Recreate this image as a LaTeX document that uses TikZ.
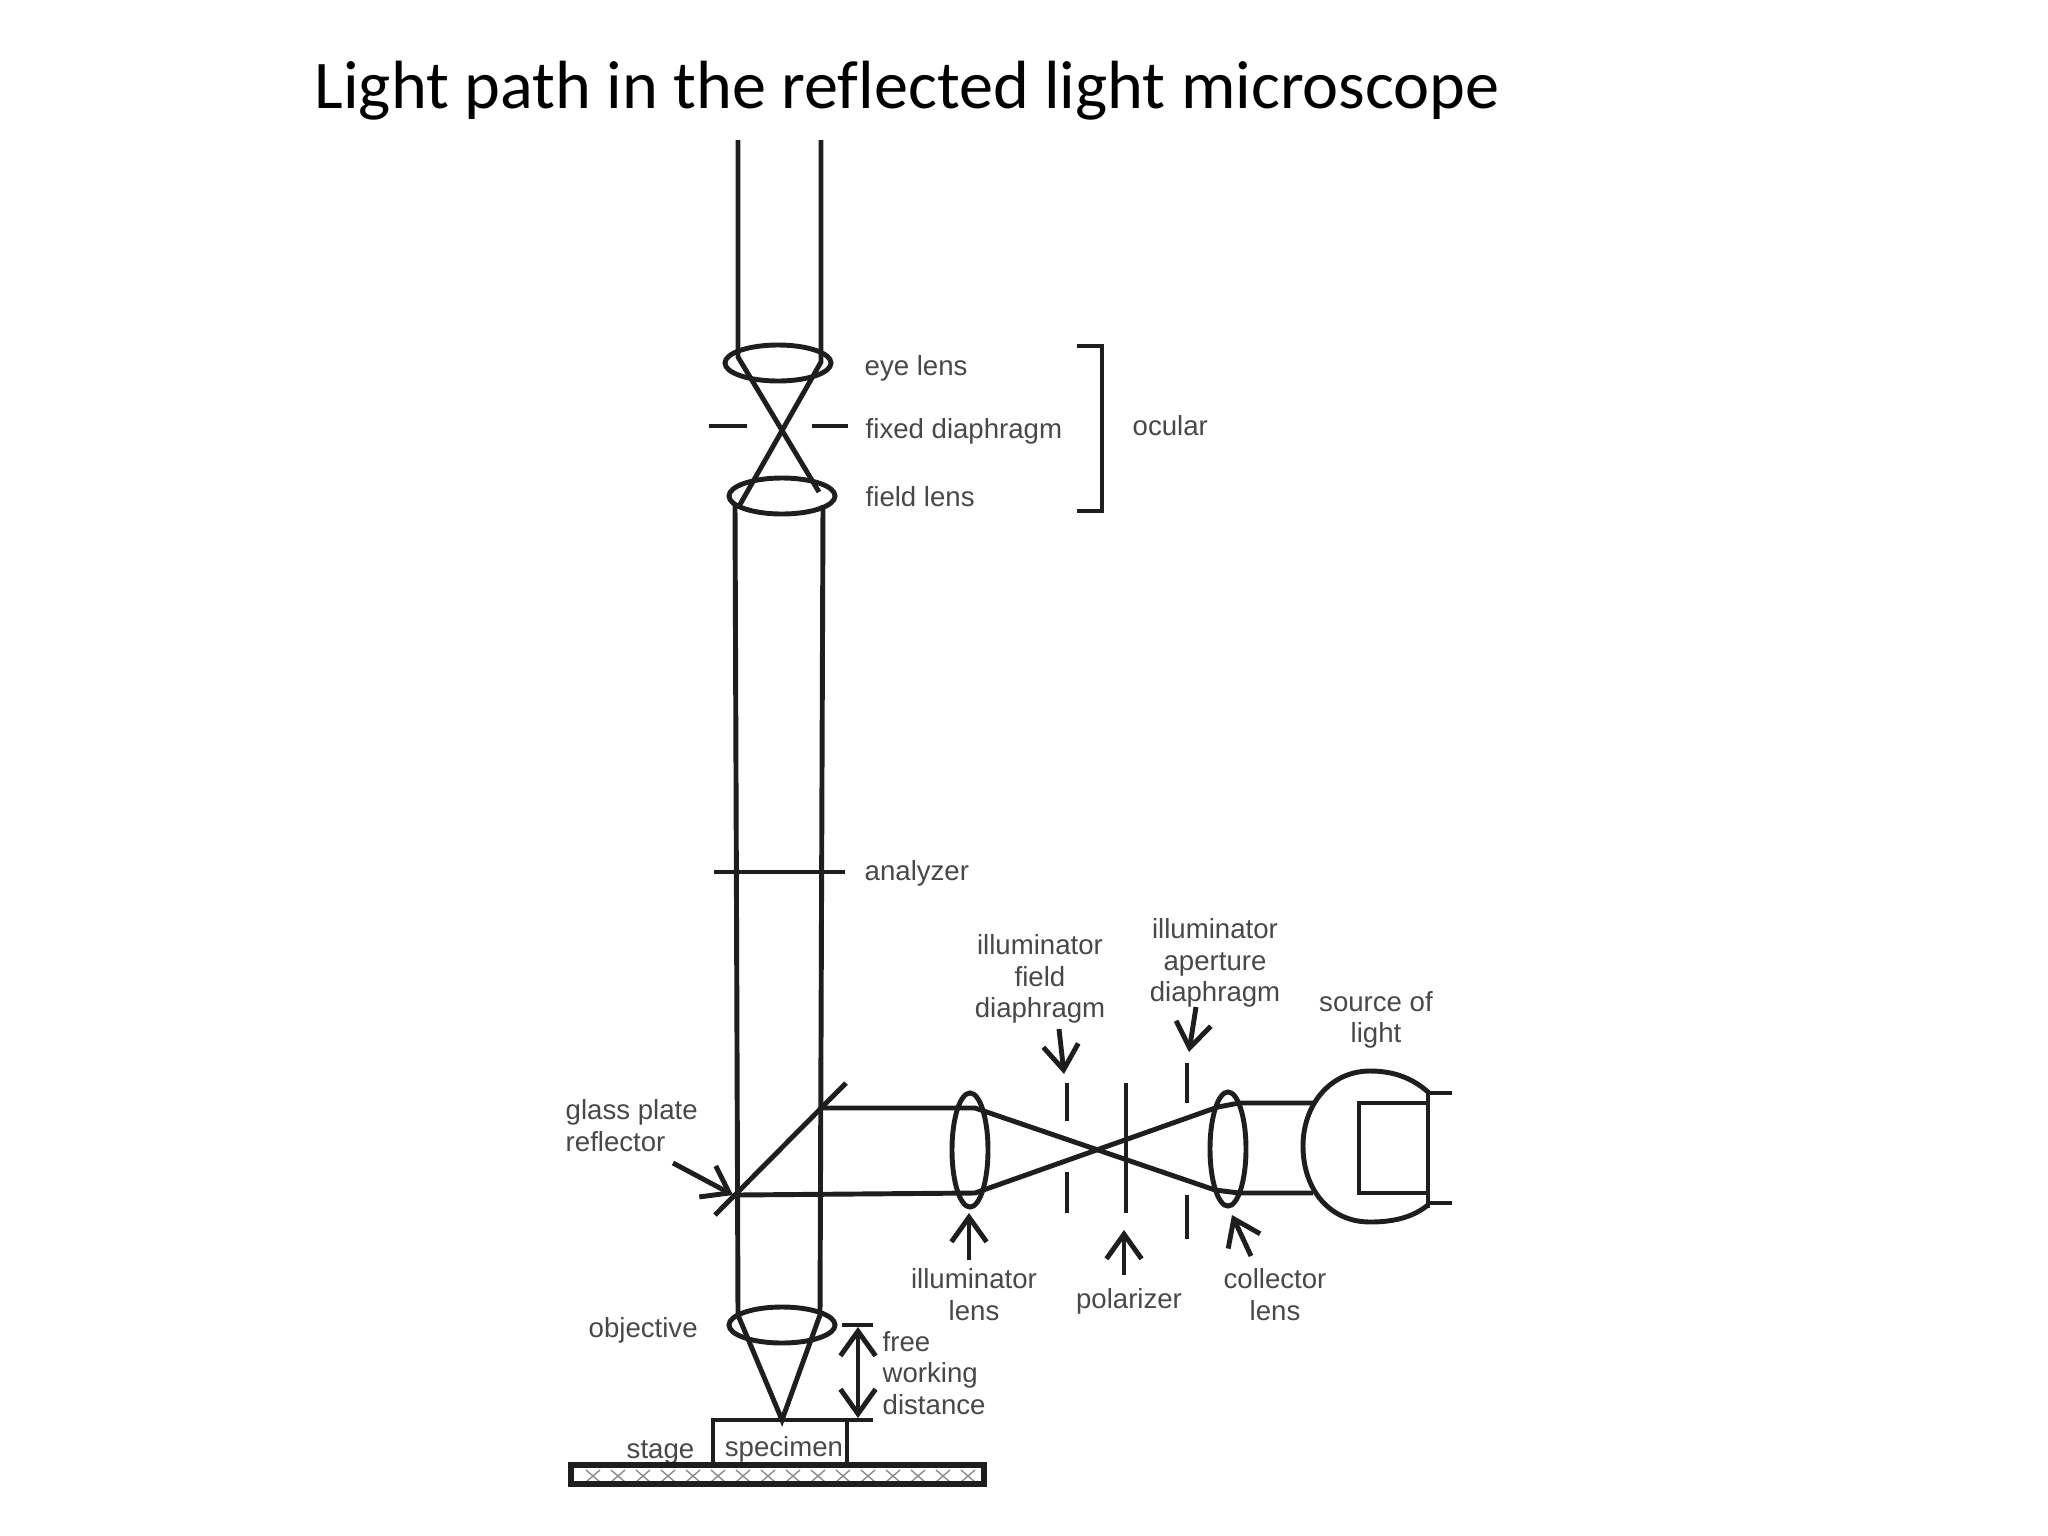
\documentclass[tikz,border=0pt]{standalone}
\usepackage{xcolor}
\usepackage{fontspec}
\setmainfont{Liberation Sans}
\newfontfamily\titlefont[Ligatures=NoCommon]{Carlito}
\usetikzlibrary{shapes.geometric, arrows.meta, positioning, calc}
\definecolor{ink}{HTML}{1E1E1E}
\definecolor{labelgray}{HTML}{484848}
\definecolor{hatch}{HTML}{8C8C8C}
\tikzset{
  barb/.tip       = {Straight Barb[length=7pt, width=10pt, line width=1.4pt]},
  ray/.style      = {draw=ink, line width=1.4pt},
  stop/.style     = {ray, line cap=butt},
  lensh/.style    = {ellipse, draw=ink, line width=1.4pt, inner sep=0pt, minimum width=1.06cm, minimum height=0.36cm},
  lensv/.style    = {ellipse, draw=ink, line width=1.4pt, inner sep=0pt, minimum width=0.36cm, minimum height=1.14cm},
  pointer/.style  = {-barb, draw=ink, line width=1.4pt},
  partname/.style = {font=\fontsize{7.85}{8.9}\selectfont, text=labelgray, inner sep=0pt, align=center},
  headline/.style = {font=\titlefont\fontsize{19.4}{24}\selectfont, text=black, inner sep=0pt},
}
\begin{document}
\begin{tikzpicture}[x=0.01cm, y=-0.01cm]
  \useasboundingbox (0,0) rectangle (2048,1536);
  \node[headline, anchor=base west] (title) at (314,108) {Light path in the reflected light microscope};

  % ocular
  \node[lensh] (eyelens) at (778,363) {};
  \node[lensh] (fieldlens) at (782,496) {};
  \draw[ray] (738,140) -- (738,357) -- (819,492);
  \draw[ray] (821,140) -- (821,362) -- (738,508);
  \draw[stop] (709,426) -- (747,426);
  \draw[stop] (812,426) -- (848,426);
  \draw[stop] (1077,346) -- (1102,346) -- (1102,511) -- (1077,511);
  \node[partname, anchor=base west] (eyename) at (864,375) {eye lens};
  \node[partname, anchor=base west] (fixedname) at (865,438) {fixed diaphragm};
  \node[partname, anchor=base west] (fieldname) at (865,506) {field lens};
  \node[partname, anchor=base west] (ocularname) at (1132,435) {ocular};

  % long tube
  \draw[ray] (735,505) -- (738,1315) -- (782,1420) -- (820,1315) -- (823,505);
  \draw[stop] (714,872) -- (845,872);
  \node[partname, anchor=base west] (analyzername) at (864,880) {analyzer};
  \node[lensh] (objective) at (782,1325) {};
  \node[partname, anchor=base west] (objectivename) at (588,1337) {objective};

  % reflector
  \coordinate (plateend) at (846,1083);
  \draw[stop] (715,1215) -- (plateend);
  \node[partname, anchor=north west, align=left] (platename) at (565,1099) {glass plate\\reflector};
  \draw[pointer] (673,1163) -- (733,1195);

  % illuminator
  \node[lensv] (illumlens) at (970,1150) {};
  \node[lensv] (collector) at (1228,1149) {};
  \draw[ray] (823,1108) -- (975,1108) -- (1215,1190);
  \draw[ray] (737,1195) -- (975,1193) -- (1218,1107);
  \draw[ray] (1218,1107) -- (1239,1103) -- (1313,1103);
  \draw[ray] (1215,1190) -- (1239,1193) -- (1313,1193);
  \draw[stop] (1067,1083) -- (1067,1121);
  \draw[stop] (1067,1172) -- (1067,1213);
  \draw[stop] (1126,1083) -- (1126,1213);
  \draw[stop] (1187,1063) -- (1187,1103);
  \draw[stop] (1187,1195) -- (1187,1239);

  % lamp
  \draw[ray] (1428,1092) .. controls (1410,1076) and (1390,1071) .. (1370,1071)
    .. controls (1330,1071) and (1303,1105) .. (1303,1146)
    .. controls (1303,1190) and (1330,1222) .. (1370,1222)
    .. controls (1392,1222) and (1412,1218) .. (1428,1205);
  \draw[ray] (1428,1090) -- (1428,1208);
  \draw[ray] (1428,1103) -- (1359,1103) -- (1359,1193) -- (1428,1193);
  \draw[ray] (1428,1093) -- (1452,1093);
  \draw[ray] (1428,1203) -- (1452,1203);
  \node[partname, anchor=north] (sourcename) at (1376,991) {source of\\light};

  % names with pointers
  \node[partname, anchor=north] (illumname) at (974,1268) {illuminator\\lens};
  \draw[pointer] (969,1260) -- (969,1213);
  \node[partname, anchor=north] (fieldstopname) at (1040,934) {illuminator\\field\\diaphragm};
  \draw[pointer] (1059,1029) -- (1064,1074);
  \node[partname, anchor=north] (aperturename) at (1215,918) {illuminator\\aperture\\diaphragm};
  \draw[pointer] (1196,1007) -- (1189,1052);
  \node[partname, anchor=base] (polarizername) at (1129,1308) {polarizer};
  \draw[pointer] (1124,1275) -- (1124,1230);
  \node[partname, anchor=north] (collectorname) at (1275,1268) {collector\\lens};
  \draw[pointer] (1251,1256) -- (1232,1215);

  % stage
  \draw[ray] (713,1463) -- (713,1420) -- (873,1420);
  \draw[ray] (847,1420) -- (847,1463);
  \draw[stop] (842,1325) -- (873,1325);
  \draw[barb-barb, ray] (858,1327) -- (858,1418);
  \node[partname, anchor=north west, align=left] (freename) at (882,1331) {free\\working\\distance};
  \node[partname, anchor=base west] (stagename) at (626,1458) {stage};
  \node[partname, anchor=base] (specimenname) at (784,1456) {specimen};
  \foreach \i in {0,...,15}
    \draw[hatch, line width=0.4pt] ({593+25*\i-7},1470) -- ({593+25*\i+7},1482) ({593+25*\i+7},1470) -- ({593+25*\i-7},1482);
  \draw[ray, line width=1.5pt] (571,1465) rectangle (984,1484);
\end{tikzpicture}
\end{document}
